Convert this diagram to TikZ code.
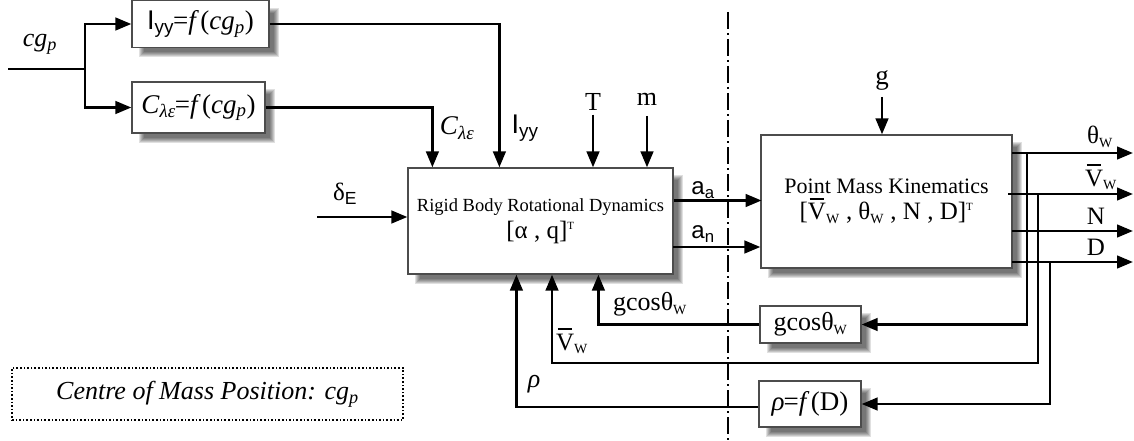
\documentclass[tikz,border=0pt]{standalone}
\usepackage{fontspec}
\setmainfont{Liberation Serif}
\setsansfont{Liberation Sans}
\usetikzlibrary{arrows.meta,calc,backgrounds}
\newcommand{\Vb}{\makebox[0pt][l]{\hspace{0.07em}\rule[0.8em]{0.58em}{0.08em}}V}
\newcommand{\fs}[1]{\fontsize{#1}{#1}\selectfont}
\begin{document}
\begin{tikzpicture}[x=1pt,y=-1pt,
  line/.style={line width=2.8pt},
  arr/.style={line, -{Triangle[length=16pt,width=12.5pt]}},
  blk/.style={draw=black!70, line width=1.2pt, fill=white, inner sep=0pt, align=center},
  lab/.style={inner sep=0pt, font=\fs{26}}]
\useasboundingbox (0,0) rectangle (1134,441);

% blocks
\node[blk, minimum width=137pt, minimum height=47pt, font=\fs{27}] (iyy) at (200.5,24)
  {{\sffamily I\textsubscript{yy}}\kern-1pt=\textit{f\,}(\textit{cg}\textsubscript{\textit{p}})};
\node[blk, minimum width=133pt, minimum height=51pt, font=\fs{27}] (cle) at (198.5,107.5)
  {\textit{C}\textsubscript{\textit{λε}}\kern-1pt=\textit{f\,}(\textit{cg}\textsubscript{\textit{p}})};
\node[blk, minimum width=265pt, minimum height=106pt] (rig) at (540.5,221)
  {{\fs{18.5}Rigid Body Rotational Dynamics}\\[5pt]{\fs{25}[α , q]\textsuperscript{\fs{11}T}}};
\node[blk, minimum width=251pt, minimum height=133pt] (pmk) at (886.5,201.5)
  {{\fs{22}Point Mass Kinematics}\\[3pt]{\fs{25}[\Vb\textsubscript{\fs{14}W} , θ\textsubscript{\fs{14}W} , N , D]\textsuperscript{\fs{11}T}}};
\node[blk, minimum width=101pt, minimum height=37pt, font=\fs{26}] (gcb) at (810.5,324.5)
  {gcosθ\textsubscript{\fs{14}W}};
\node[blk, minimum width=102pt, minimum height=46pt, font=\fs{27}] (rhb) at (810,404)
  {\textit{ρ}\kern-1pt=\textit{f\,}(D)};
\node[draw, dotted, line width=1.6pt, minimum width=391pt, minimum height=52pt, inner sep=0pt, font=\fs{26}] (cmp) at (207.5,394)
  {\textit{Centre of Mass Position: cg}\textsubscript{\textit{p}}};

% shadows
\begin{scope}[on background layer]
\foreach \n in {iyy,cle,rig,pmk,gcb,rhb}{
  \foreach \k in {0,1,...,5}{
    \fill[black, opacity=0.12] ($(\n.north west)+(8+\k,8+\k)$) rectangle ($(\n.south east)+(9-\k,9-\k)$);
  }
}
\end{scope}

% labels
\node[lab] (lcg) at (40,44) {\textit{cg}\textsubscript{\textit{p}}};
\node[lab, font=\fs{27}] (lcl) at (457,128) {\textit{C}\textsubscript{\textit{λε}}};
\node[lab, font=\fs{27}] (liy) at (525,128) {\sffamily I\textsubscript{yy}};
\node[lab] (lT) at (593,102) {T};
\node[lab] (lm) at (647,99) {m};
\node[lab, font=\fs{25}] (ldE) at (345,194) {δ\textsubscript{\sffamily E}};
\node[lab, font=\fs{24}] (laa) at (703,190) {\sffamily a\textsubscript{a}};
\node[lab, font=\fs{24}] (lan) at (703,234) {\sffamily a\textsubscript{n}};
\node[lab, font=\fs{27}] (lg) at (882,80) {g};
\node[lab, font=\fs{25}] (lth) at (1100,137) {θ\textsubscript{\fs{14}W}};
\node[lab, font=\fs{25}] (lvw) at (1101,177) {\Vb\textsubscript{\fs{14}W}};
\node[lab, font=\fs{25}] (lN) at (1096,216) {N};
\node[lab, font=\fs{25}] (lD) at (1096,247) {D};
\node[lab] (lgc) at (650,304) {gcosθ\textsubscript{\fs{14}W}};
\node[lab, font=\fs{25}] (lvf) at (572,341) {\Vb\textsubscript{\fs{14}W}};
\node[lab] (lrh) at (534,384) {\textit{ρ}};

% coordinates
\coordinate (in) at (8,69);
\coordinate (br) at (85,69);
\coordinate (dE) at (317,217);
\coordinate (xR) at (1133,0);
\coordinate (oT) at (1012,153);
\coordinate (oV) at (1008,194);
\coordinate (oN) at (1012,231);
\coordinate (oD) at (1012,262);
\coordinate (jT) at (1027,153);
\coordinate (jV) at (1038,194);
\coordinate (jD) at (1050,262);
\coordinate (vb) at (552,363);
\coordinate (an) at (673,247);

% connectors
\draw[line] (in) -- (br);
\draw[arr] (br) |- (iyy.west);
\draw[arr] (br) |- (cle.west);
\draw[arr] (iyy.east) -| ($(rig.north west)+(92,0)$);
\draw[arr] (cle.east) -| ($(rig.north west)+(25,0)$);
\draw[arr] (lT.south) ++(0,4) -- (lT.south |- rig.north);
\draw[arr] (lm) ++(0,17) -- (lm |- rig.north);
\draw[arr] (dE) -- (dE -| rig.west);
\draw[arr] (pmk.west -| rig.east) ++(0,-1) -- ++(88,0);
\draw[arr] (an) -- (an -| pmk.west);
\draw[arr] (lg) ++(0,17) -- (lg |- pmk.north);
\draw[arr] (oT) -- (oT -| xR);
\draw[arr] (oV) -- (oV -| xR);
\draw[arr] (oN) -- (oN -| xR);
\draw[arr] (oD) -- (oD -| xR);
\draw[arr] (jT) |- (gcb.east);
\draw[arr] (jD) |- (rhb.east);
\draw[arr] (jV) |- (vb) -- (vb |- rig.south);
\draw[arr] (gcb.west) -| ($(rig.south west)+(191,0)$);
\draw[arr] (rhb.west) ++(0,3) -| ($(rig.south west)+(109,0)$);

% separator
\draw[line width=1.4pt, dash pattern=on 17pt off 4pt on 2pt off 4pt] (728,12) -- (728,441);
\end{tikzpicture}
\end{document}
